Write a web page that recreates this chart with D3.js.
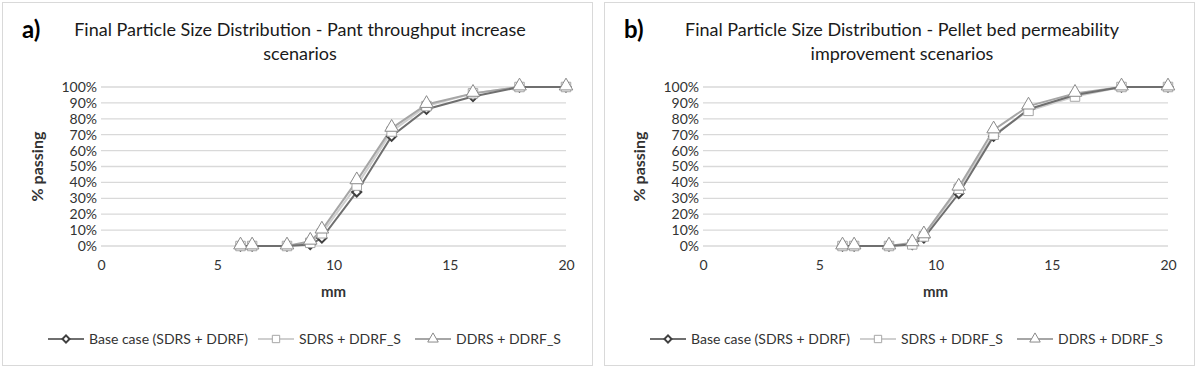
<!DOCTYPE html>
<html>
<head>
<meta charset="utf-8">
<script src="https://cdn.jsdelivr.net/npm/d3@7"></script>
<style>
  body { margin: 0; background: #fff; }
  svg { display: block; font-family: Lato, "Open Sans", sans-serif; }
</style>
</head>
<body>
<div id="chart"></div>
<script>
// sieve sizes (mm)
const sizes = [6, 6.5, 8, 9, 9.5, 11, 12.5, 14, 16, 18, 20];

// panel a) plant throughput increase scenarios
const baseA = [0, 0, 0, 1, 5, 34, 69, 86, 94, 100, 100];
const sdrsA = [0, 0, 0, 2, 8, 38, 72, 88, 96, 100, 100];
const ddrsA = [0, 0, 0, 3, 10, 41, 74, 89, 96, 100, 100];

// panel b) pellet bed permeability improvement scenarios
const baseB = [0, 0, 0, 1, 5, 33, 69, 86, 95, 100, 100];
const sdrsB = [0, 0, 0, 1, 6, 36, 70, 85, 94, 100, 100];
const ddrsB = [0, 0, 0, 2, 7, 37, 73, 88, 96, 100, 100];

const seriesNames = ["Base case (SDRS + DDRF)", "SDRS + DDRF_S", "DDRS + DDRF_S"];
const xTicks = [0, 5, 10, 15, 20];
const yTicks = [0, 10, 20, 30, 40, 50, 60, 70, 80, 90, 100];

// diamond = square turned 45 degrees
const styles = [
  { line: "#6f6f6f", stroke: "#404040", sym: d3.symbolSquare, size: 42, rot: 45 },
  { line: "#cfcfcf", stroke: "#a6a6a6", sym: d3.symbolSquare, size: 90, rot: 0 },
  { line: "#a6a6a6", stroke: "#8a8a8a", sym: d3.symbolTriangle, size: 80, rot: 0 }
];

const svg = d3.select("#chart").append("svg")
  .attr("width", 1200)
  .attr("height", 369);

const panels = [
  { left: 2, letter: "a)", title: ["Final Particle Size Distribution - Pant throughput increase", "scenarios"], data: [baseA, sdrsA, ddrsA] },
  { left: 604, letter: "b)", title: ["Final Particle Size Distribution - Pellet bed permeability", "improvement scenarios"], data: [baseB, sdrsB, ddrsB] }
];

panels.forEach(p => {
  const g = svg.append("g").attr("transform", `translate(${p.left},0)`);

  // panel border
  g.append("rect")
    .attr("x", 0.5).attr("y", 2.5)
    .attr("width", 590).attr("height", 363)
    .attr("fill", "#fff").attr("stroke", "#d9d9d9");

  const x = d3.scaleLinear().domain([0, 20]).range([99, 564]);
  const y = d3.scaleLinear().domain([0, 100]).range([246, 87]);

  // letter
  g.append("text")
    .attr("x", 20).attr("y", 38)
    .style("font-size", "24px").style("font-weight", "bold")
    .text(p.letter);

  // title
  p.title.forEach((t, i) => {
    g.append("text")
      .attr("x", 298).attr("y", 36 + i * 24)
      .attr("text-anchor", "middle")
      .style("font-size", "18px")
      .attr("fill", "#1a1a1a")
      .text(t);
  });

  // gridlines
  g.append("g")
    .selectAll("line")
    .data(yTicks)
    .join("line")
    .attr("x1", x(0)).attr("x2", x(20))
    .attr("y1", d => y(d)).attr("y2", d => y(d))
    .attr("stroke", "#d9d9d9").attr("stroke-width", 1.3);

  // y axis
  const yAxis = g.append("g")
    .attr("transform", `translate(${x(0)},0)`)
    .call(d3.axisLeft(y).tickValues(yTicks).tickFormat(d => d + "%").tickSize(0).tickPadding(4));
  yAxis.select(".domain").remove();
  yAxis.selectAll("text").style("font-size", "14px").attr("fill", "#333").style("font-family", "Lato, sans-serif");

  // x axis
  const xAxis = g.append("g")
    .attr("transform", `translate(0,${y(0)})`)
    .call(d3.axisBottom(x).tickValues(xTicks).tickSize(0).tickPadding(14));
  xAxis.select(".domain").remove();
  xAxis.selectAll("text").style("font-size", "14px").attr("fill", "#333").style("font-family", "Lato, sans-serif");

  // axis titles
  g.append("text")
    .attr("x", x(10)).attr("y", 297)
    .attr("text-anchor", "middle")
    .style("font-size", "15px").style("font-weight", "bold")
    .attr("fill", "#333")
    .text("mm");

  g.append("text")
    .attr("transform", `translate(41,${y(50)}) rotate(-90)`)
    .attr("text-anchor", "middle")
    .style("font-size", "16px").style("font-weight", "bold")
    .attr("fill", "#333")
    .text("% passing");

  // series
  const line = d3.line().x(d => x(d[0])).y(d => y(d[1]));
  const order = [1, 2, 0];
  order.forEach(i => {
    const pts = sizes.map((s, k) => [s, p.data[i][k]]);
    g.append("path")
      .datum(pts)
      .attr("d", line)
      .attr("fill", "none")
      .attr("stroke", styles[i].line)
      .attr("stroke-width", 2);
  });
  [0, 1, 2].forEach(i => {
    const pts = sizes.map((s, k) => [s, p.data[i][k]]);
    g.append("g").selectAll("path")
      .data(pts)
      .join("path")
      .attr("transform", d => `translate(${x(d[0])},${y(d[1]) - (i === 2 ? 1 : 0)}) rotate(${styles[i].rot})`)
      .attr("d", d3.symbol().type(styles[i].sym).size(styles[i].size))
      .attr("fill", "#fff")
      .attr("stroke", styles[i].stroke)
      .attr("stroke-width", i === 0 ? 2 : 1);
  });

  // legend
  const legendX = [46, 256, 413];
  seriesNames.forEach((name, i) => {
    const lg = g.append("g").attr("transform", `translate(${legendX[i]},339)`);
    lg.append("line")
      .attr("x1", 0).attr("x2", 36)
      .attr("stroke", styles[i].line).attr("stroke-width", 2);
    lg.append("path")
      .attr("transform", `translate(18,0) rotate(${styles[i].rot})`)
      .attr("d", d3.symbol().type(styles[i].sym).size(styles[i].size * 0.6))
      .attr("fill", "#fff")
      .attr("stroke", styles[i].stroke)
      .attr("stroke-width", i === 0 ? 2 : 1);
    lg.append("text")
      .attr("x", 41).attr("y", 5)
      .style("font-size", "14px")
      .attr("fill", "#333")
      .text(name);
  });
});
</script>
</body>
</html>
